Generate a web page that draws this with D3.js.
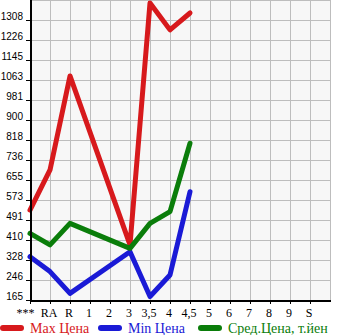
<!DOCTYPE html>
<html>
<head>
<meta charset="utf-8">
<script src="https://cdn.jsdelivr.net/npm/d3@7"></script>
<style>
  body { margin: 0; background: #fff; }
  svg { display: block; }
</style>
</head>
<body>
<svg id="drawing_region"></svg>
<script>
// categories along the x axis
const categories = ["***", "RA", "R", "1", "2", "3", "3,5", "4", "4,5", "5", "6", "7", "8", "9", "S"];
// y tick labels as printed
const ytick_labels = [165, 246, 328, 410, 491, 573, 655, 736, 818, 900, 981, 1063, 1145, 1226, 1308];
// series (null = no data)
const max_price = [532, 696, 1080, null, null, 390, 1378, 1268, 1337, null, null, null, null, null, null];
const min_price = [342, 281, 192, null, null, 362, 179, 267, 607, null, null, null, null, null, null];
const avg_price = [437, 390, 478, null, null, 376, 478, 526, 805, null, null, null, null, null, null];
const series_names = ["Max Цена", "Min Цена", "Сред.Цена, т.йен"];
const series_colors = ["#d7191c", "#1a1ad6", "#0a7d0a"];

const config = {
    width: 345,
    height: 335,
    margin: {top: 0, right: 14, bottom: 35, left: 30}
};

const svg = d3.select('#drawing_region')
    .attr('width', config.width)
    .attr('height', config.height);

const chart = svg.append('g')
    .attr('transform', `translate(${config.margin.left}, ${config.margin.top})`);

const xscale = d3.scalePoint()
    .domain(categories)
    .range([0, 20 * (categories.length - 1)]);

const yscale = d3.scaleLinear()
    .domain([165, 1390])
    .range([300, 0]);

// tick positions (labels are rounded down from these)
const ytick_values = ytick_labels.map((d, k) => 165 + (1390 - 165) / 15 * k);

// background
chart.append('rect')
    .attr('x', 0).attr('y', 0)
    .attr('width', 300).attr('height', 300)
    .attr('fill', '#f7f7f7');

// grid
const grid = chart.append('g').attr('stroke', '#bdbdbd').attr('stroke-width', 1);
const xgrid = categories.map(c => xscale(c)).concat([300]);
grid.selectAll('line.v')
    .data(xgrid)
    .enter().append('line')
    .attr('x1', d => d + 0.5).attr('x2', d => d + 0.5)
    .attr('y1', 0).attr('y2', 300);
grid.selectAll('line.h')
    .data(ytick_values.concat([1390]))
    .enter().append('line')
    .attr('x1', 0).attr('x2', 300)
    .attr('y1', d => Math.round(yscale(d)) + 0.5)
    .attr('y2', d => Math.round(yscale(d)) + 0.5);

// lines
const line = d3.line()
    .x(d => xscale(d.c))
    .y(d => yscale(d.v));

[max_price, min_price, avg_price].forEach((vals, i) => {
    const pts = categories.map((c, j) => ({c: c, v: vals[j]})).filter(d => d.v != null);
    chart.append('path')
        .datum(pts)
        .attr('fill', 'none')
        .attr('stroke', series_colors[i])
        .attr('stroke-width', 5)
        .attr('stroke-linejoin', 'round')
        .attr('stroke-linecap', 'round')
        .attr('d', line);
});

// y axis
const yaxis = d3.axisLeft(yscale)
    .tickValues(ytick_values)
    .tickFormat((d, k) => ytick_labels[k])
    .tickSize(4)
    .tickPadding(3);
const yaxis_group = chart.append('g').call(yaxis);
yaxis_group.select('.domain').remove();
yaxis_group.selectAll('.tick line').attr('stroke', '#000');
yaxis_group.selectAll('.tick text')
    .attr('font-family', 'Liberation Sans')
    .attr('font-size', 10)
    .attr('dy', '-0.05em')
    .attr('fill', '#000');
chart.append('line')
    .attr('x1', 1).attr('x2', 1).attr('y1', 0).attr('y2', 301)
    .attr('stroke', '#000').attr('stroke-width', 2);

// x axis
const xaxis = d3.axisBottom(xscale).tickSize(4).tickPadding(4);
const xaxis_group = chart.append('g')
    .attr('transform', 'translate(0, 300)')
    .call(xaxis);
xaxis_group.select('.domain').remove();
xaxis_group.selectAll('.tick line').attr('stroke', '#000');
xaxis_group.selectAll('.tick text')
    .attr('font-family', 'Liberation Serif')
    .attr('font-size', 12)
    .attr('dx', (d, k) => k == 0 ? -5 : -1.5)
    .attr('fill', '#000');
chart.append('line')
    .attr('x1', 0).attr('x2', 301).attr('y1', 301).attr('y2', 301)
    .attr('stroke', '#000').attr('stroke-width', 2);

// legend
const legend_x = [0, 98, 198];
const legend = svg.append('g');
series_names.forEach((name, i) => {
    legend.append('line')
        .attr('x1', legend_x[i] + 3).attr('x2', legend_x[i] + 21)
        .attr('y1', 328).attr('y2', 328)
        .attr('stroke', series_colors[i])
        .attr('stroke-width', 6)
        .attr('stroke-linecap', 'round');
    legend.append('text')
        .attr('x', legend_x[i] + 30)
        .attr('y', 333)
        .attr('font-family', 'Liberation Serif')
        .attr('font-size', 14)
        .attr('fill', series_colors[i])
        .text(name);
});
</script>
</body>
</html>
